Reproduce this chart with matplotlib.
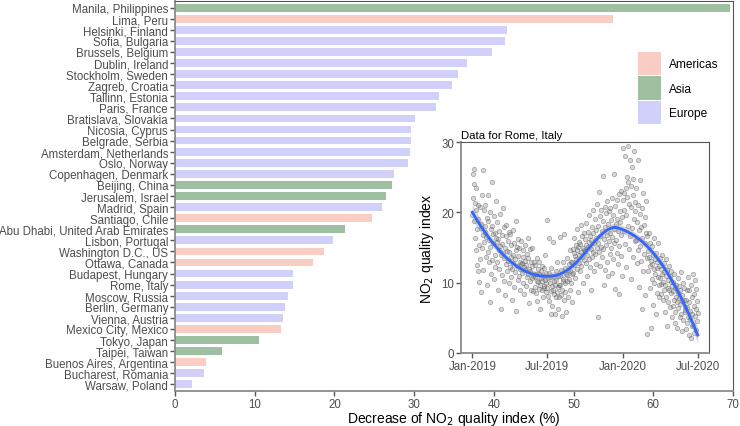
import numpy as np
import pandas as pd
import matplotlib
matplotlib.use("Agg")
from matplotlib import pyplot as plt
from matplotlib.patches import Patch
import matplotlib.dates as mdates

plt.rcParams['font.family'] = ['Liberation Sans', 'DejaVu Sans']

cities = ["Manila, Philippines", "Lima, Peru", "Helsinki, Finland", "Sofia, Bulgaria",
          "Brussels, Belgium", "Dublin, Ireland", "Stockholm, Sweden", "Zagreb, Croatia",
          "Tallinn, Estonia", "Paris, France", "Bratislava, Slovakia", "Nicosia, Cyprus",
          "Belgrade, Serbia", "Amsterdam, Netherlands", "Oslo, Norway", "Copenhagen, Denmark",
          "Beijing, China", "Jerusalem, Israel", "Madrid, Spain", "Santiago, Chile",
          "Abu Dhabi, United Arab Emirates", "Lisbon, Portugal", "Washington D.C., US",
          "Ottawa, Canada", "Budapest, Hungary", "Rome, Italy", "Moscow, Russia",
          "Berlin, Germany", "Vienna, Austria", "Mexico City, Mexico", "Tokyo, Japan",
          "Taipei, Taiwan", "Buenos Aires, Argentina", "Bucharest, Romania", "Warsaw, Poland"]
regions = ["Asia", "Americas", "Europe", "Europe", "Europe", "Europe", "Europe", "Europe",
           "Europe", "Europe", "Europe", "Europe", "Europe", "Europe", "Europe", "Europe",
           "Asia", "Asia", "Europe", "Americas", "Asia", "Europe", "Americas", "Americas",
           "Europe", "Europe", "Europe", "Europe", "Europe", "Americas", "Asia", "Asia",
           "Americas", "Europe", "Europe"]
decrease = [69.6, 54.9, 41.7, 41.4, 39.8, 36.6, 35.5, 34.8, 33.1, 32.7, 30.1, 29.6,
            29.6, 29.5, 29.2, 27.5, 27.2, 26.5, 26.0, 24.7, 21.3, 19.8, 18.7, 17.3,
            14.8, 14.8, 14.2, 13.8, 13.6, 13.3, 10.5, 5.9, 3.9, 3.6, 2.1]

region_names = ["Americas", "Asia", "Europe"]
region_colors = {"Americas": "#F9CDC4", "Asia": "#9FBFA1", "Europe": "#D0D0FB"}

# Rome daily NO2 index, Jan 2019 - Jul 2020 (one list per month)
rome_monthly = [
    [19.6, 22.0, 25.4, 26.2, 24.0, 18.7, 16.3, 21.3, 20.3, 14.6, 23.4, 17.6, 12.5, 11.6, 19.0, 21.1,
     10.1, 15.3, 20.8, 13.4, 8.7, 18.3, 17.8, 22.5, 14.9, 16.8, 11.8, 26.0, 20.3, 15.8, 18.0],
    [17.2, 21.0, 13.7, 16.5, 9.6, 19.2, 14.4, 18.8, 22.4, 12.9, 16.0, 15.1, 7.3, 20.0, 17.7, 11.2,
     13.2, 18.1, 24.3, 15.6, 16.9, 10.5, 19.5, 14.0, 17.0, 12.2, 21.6, 16.4],
    [15.8, 13.0, 18.6, 16.2, 9.0, 14.7, 17.4, 12.0, 19.8, 15.2, 6.3, 13.9, 16.8, 11.1, 15.5, 20.6,
     14.2, 10.2, 17.9, 13.5, 15.0, 8.2, 16.6, 12.6, 18.2, 14.5, 11.7, 15.9, 13.1, 17.2, 9.9],
    [14.3, 12.2, 16.9, 10.8, 15.4, 13.6, 7.6, 11.9, 17.5, 14.0, 12.8, 9.4, 15.7, 13.3, 11.5, 18.8,
     14.7, 6.0, 12.4, 15.1, 10.4, 13.8, 16.2, 11.0, 14.9, 12.0, 8.9, 13.0, 15.9, 12.7],
    [12.8, 11.4, 14.6, 10.0, 13.7, 12.2, 8.4, 15.3, 11.8, 13.1, 9.5, 12.5, 14.1, 10.8, 16.4, 11.2,
     13.5, 7.1, 12.0, 10.3, 14.8, 11.6, 9.0, 13.0, 12.3, 10.7, 15.0, 11.0, 8.8, 12.9, 11.3],
    [10.8, 9.4, 12.5, 8.6, 11.3, 10.3, 13.5, 7.4, 10.1, 11.9, 9.1, 11.2, 12.9, 9.7, 6.3, 10.7,
     11.6, 8.9, 10.2, 12.3, 11.0, 7.9, 9.5, 12.1, 9.2, 10.4, 13.9, 9.9, 11.4, 8.7],
    [18.9, 9.3, 10.6, 8.1, 11.4, 16.3, 7.4, 9.9, 10.8, 5.6, 8.8, 12.1, 9.5, 6.7, 11.0, 9.0,
     15.8, 8.4, 10.2, 5.5, 9.7, 11.7, 7.9, 10.4, 12.9, 8.7, 9.4, 6.2, 10.9, 8.0, 9.6],
    [16.5, 9.6, 11.0, 8.2, 11.8, 9.0, 5.2, 10.3, 12.9, 10.5, 7.5, 16.9, 9.9, 12.1, 8.7, 11.2,
     5.8, 11.1, 13.5, 10.3, 7.9, 11.8, 12.6, 10.5, 9.0, 14.7, 11.6, 9.9, 13.0, 11.2, 7.3],
    [13.0, 14.8, 11.4, 14.2, 16.3, 12.5, 13.8, 10.6, 15.4, 13.3, 17.7, 14.6, 12.0, 15.1, 8.7, 13.9,
     15.8, 12.8, 11.7, 15.5, 18.2, 14.4, 12.3, 16.6, 13.6, 15.0, 9.9, 14.7, 17.0, 13.2],
    [14.5, 16.2, 12.8, 15.4, 18.5, 14.0, 10.9, 15.1, 17.2, 13.4, 15.8, 19.6, 12.2, 16.7, 14.8, 9.0,
     16.0, 17.9, 13.7, 20.4, 14.3, 17.0, 11.6, 15.6, 19.0, 14.1, 17.5, 12.7, 16.4, 21.2, 15.0],
    [15.7, 5.1, 18.0, 14.3, 22.9, 16.6, 12.4, 19.5, 15.1, 20.4, 13.6, 17.4, 25.1, 14.8, 18.7, 9.6,
     16.2, 20.8, 11.8, 17.9, 15.4, 19.9, 13.0, 16.8, 21.6, 10.9, 18.3, 15.9, 20.2, 14.1],
    [17.1, 20.6, 14.9, 18.9, 11.4, 22.0, 16.5, 19.6, 13.3, 25.5, 17.7, 15.6, 20.9, 9.1, 18.4, 16.0,
     21.7, 14.2, 19.1, 12.6, 17.4, 22.6, 15.2, 8.4, 18.6, 20.2, 13.8, 16.8, 23.0, 11.0, 19.4],
    [21.8, 29.2, 17.3, 22.7, 20.4, 28.0, 15.5, 23.5, 19.6, 12.2, 22.2, 25.0, 18.0, 24.3, 29.4, 14.8,
     21.2, 27.5, 16.6, 23.8, 10.5, 20.8, 26.4, 17.8, 22.5, 13.6, 24.8, 19.0, 28.7, 15.9, 21.5],
    [20.2, 16.0, 23.4, 12.8, 18.6, 27.4, 14.6, 21.0, 17.5, 9.4, 19.8, 15.2, 24.6, 13.1, 17.9, 6.3,
     20.6, 16.3, 22.8, 11.6, 18.2, 14.1, 19.4, 15.6, 8.2, 17.0, 21.6, 13.5, 16.7],
    [2.7, 14.5, 11.6, 17.1, 13.7, 9.3, 15.6, 12.3, 3.6, 13.1, 10.5, 15.2, 12.7, 6.8, 14.0, 11.9,
     16.3, 10.0, 13.4, 11.2, 5.5, 14.2, 12.1, 8.6, 12.9, 10.8, 15.7, 9.7, 12.4, 7.9, 13.5],
    [10.6, 8.4, 12.0, 9.8, 14.0, 11.2, 7.6, 10.1, 12.8, 8.9, 11.5, 5.8, 9.6, 13.3, 10.9, 8.0,
     11.8, 3.8, 9.3, 10.4, 7.2, 12.3, 9.0, 11.0, 6.5, 10.1, 8.6, 11.7, 9.5, 5.1],
    [8.8, 6.7, 10.1, 7.5, 11.3, 5.9, 9.2, 4.3, 8.0, 9.7, 7.2, 3.6, 8.5, 10.6, 6.4, 7.8,
     9.5, 5.1, 6.9, 8.9, 11.5, 5.6, 8.3, 3.1, 7.4, 10.0, 4.7, 7.6, 9.3, 6.1, 6.5],
    [5.8, 3.4, 7.6, 9.0, 4.3, 6.5, 10.8, 5.1, 2.6, 7.2, 8.9, 4.8, 6.0, 2.2, 9.6, 5.5,
     3.8, 7.9, 11.2, 4.0, 6.7, 2.9, 8.4, 5.3, 10.4, 3.2, 6.3, 9.1, 4.6, 7.4],
    [5.7],
]
rome_dates = pd.date_range("2019-01-01", "2020-07-01", freq="D")
rome_values = np.concatenate([np.array(m) for m in rome_monthly])


def loess(x, y, xg, span=0.75):
    # local quadratic fit with tricube weights (like geom_smooth default)
    n = len(x)
    q = int(np.floor(n * span))

    def smoother_rows(pts):
        rows = []
        for x0 in pts:
            d = np.abs(x - x0)
            h = np.sort(d)[q - 1]
            w = np.clip(1 - (d / h) ** 3, 0, None) ** 3
            X = np.column_stack([np.ones(n), x - x0, (x - x0) ** 2])
            XtW = X.T * w
            rows.append(np.linalg.solve(XtW @ X, XtW)[0])
        return np.array(rows)

    L = smoother_rows(x)
    res = y - L @ y
    sigma = np.sqrt(np.sum(res ** 2) / (n - np.trace(L)))
    Lg = smoother_rows(xg)
    fit = Lg @ y
    se = sigma * np.sqrt(np.sum(Lg ** 2, axis=1))
    return fit, se


fig = plt.figure(figsize=(7.4, 4.27), dpi=100)
ax = fig.add_axes([175 / 740, 1 - 392 / 427, 558 / 740, 390 / 427])

ypos = np.arange(len(cities))
ax.barh(ypos, decrease, height=0.7, color=[region_colors[r] for r in regions])
ax.set_ylim(len(cities) - 0.4, -0.6)
ax.set_xlim(0, 70)
ax.set_yticks(ypos)
ax.set_yticklabels(cities)
ax.set_xticks(np.arange(0, 71, 10))
ax.tick_params(axis='both', colors='#555555', labelcolor='#4D4D4D', labelsize=8.3,
               length=3.5, width=1.0, pad=1.5)
ax.set_xlabel("Decrease of NO$_2$ quality index (%)", fontsize=10, color='black', labelpad=-0.5)
for s in ['top', 'right']:
    ax.spines[s].set_color('#555555')
    ax.spines[s].set_linewidth(0.8)
for s in ['left', 'bottom']:
    ax.spines[s].set_color('#8A8A8A')
    ax.spines[s].set_linewidth(1.3)

handles = [Patch(facecolor=region_colors[r], edgecolor='none') for r in region_names]
fig.legend(handles, region_names, loc='upper left', bbox_to_anchor=(638 / 740, 1 - 53 / 427),
           frameon=False, fontsize=8.6, handlelength=1.93, handleheight=2.59,
           labelspacing=0.12, handletextpad=0.67, borderpad=0, borderaxespad=0)

# inset: Rome time series
ins = fig.add_axes([461 / 740, 1 - 354 / 427, 248 / 740, 211 / 427])
xd = mdates.date2num(rome_dates.to_pydatetime())
ins.scatter(xd, rome_values, s=10, facecolor=(0.45, 0.45, 0.45, 0.28),
            edgecolor=(0.35, 0.35, 0.35, 0.45), linewidths=0.6, zorder=2)
xg = np.linspace(xd[0], xd[-1], 200)
fit, se = loess(xd, rome_values, xg)
ins.fill_between(xg, fit - 1.96 * se, fit + 1.96 * se, color='#999999', alpha=0.4,
                 linewidth=0, zorder=3)
ins.plot(xg, fit, color='#3366FF', lw=2.0, zorder=4)
pad = 0.05 * (xd[-1] - xd[0])
ins.set_xlim(xd[0] - pad, xd[-1] + pad)
ins.set_ylim(0, 30)
ins.set_yticks([0, 10, 20, 30])
ins.set_xticks(mdates.date2num(pd.to_datetime(["2019-01-01", "2019-07-01",
                                                "2020-01-01", "2020-07-01"]).to_pydatetime()))
ins.xaxis.set_major_formatter(mdates.DateFormatter('%b-%Y'))
ins.tick_params(axis='both', colors='#555555', labelcolor='#4D4D4D', labelsize=8.3,
                length=3.5, width=1.0, pad=1.5)
ins.set_ylabel("NO$_2$ quality index", fontsize=10, color='black', labelpad=3.5)
ins.set_title("Data for Rome, Italy", fontsize=8.2, loc='left', pad=3, color='black')
for s in ['top', 'right']:
    ins.spines[s].set_color('#555555')
    ins.spines[s].set_linewidth(0.8)
for s in ['left', 'bottom']:
    ins.spines[s].set_color('#8A8A8A')
    ins.spines[s].set_linewidth(1.3)

fig.savefig("out.png", dpi=100)
